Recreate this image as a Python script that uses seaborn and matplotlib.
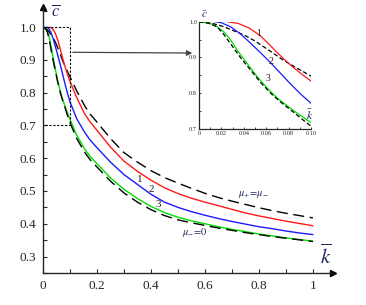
import matplotlib
matplotlib.use("Agg")
import matplotlib.pyplot as plt
from matplotlib.ticker import MultipleLocator
import seaborn as sns

# ─── Data ───────────────────────────────────────────────────────────────────
# mu+ = mu- (upper dashed)
k_eq = [0, 0.011, 0.022, 0.033, 0.042, 0.05, 0.0625, 0.075, 0.0875, 0.1, 0.125, 0.155,
        0.175, 0.2, 0.25, 0.3, 0.35, 0.4, 0.45, 0.5, 0.55, 0.6, 0.65, 0.7, 0.75, 0.8,
        0.85, 0.9, 0.95, 1.0]
c_eq = [1.0, 0.996, 0.986, 0.972, 0.96, 0.946, 0.92, 0.893, 0.87, 0.848, 0.805, 0.759,
        0.734, 0.71, 0.66, 0.617, 0.588, 0.562, 0.541, 0.524, 0.508, 0.493, 0.48, 0.469,
        0.459, 0.449, 0.44, 0.432, 0.425, 0.418]

# curve 1 (red)
k_1 = [0.025, 0.035, 0.045, 0.055, 0.0625, 0.07, 0.076, 0.082, 0.091, 0.1, 0.125, 0.155,
       0.175, 0.2, 0.25, 0.3, 0.35, 0.4, 0.45, 0.5, 0.55, 0.6, 0.65, 0.7, 0.75, 0.8, 0.85,
       0.9, 0.95, 1.0]
c_1 = [1.0, 0.995, 0.982, 0.96, 0.937, 0.913, 0.895, 0.878, 0.855, 0.834, 0.785, 0.734,
       0.71, 0.685, 0.634, 0.591, 0.56, 0.533, 0.51, 0.492, 0.478, 0.466, 0.455, 0.444,
       0.433, 0.424, 0.416, 0.408, 0.401, 0.394]

# curve 2 (blue)
k_2 = [0.014, 0.02, 0.028, 0.037, 0.046, 0.055, 0.064, 0.073, 0.082, 0.091, 0.1, 0.125,
       0.155, 0.175, 0.2, 0.25, 0.3, 0.35, 0.4, 0.45, 0.5, 0.55, 0.6, 0.65, 0.7, 0.75,
       0.8, 0.85, 0.9, 0.95, 1.0]
c_2 = [1.0, 0.997, 0.986, 0.966, 0.94, 0.913, 0.885, 0.855, 0.825, 0.797, 0.772, 0.72,
       0.678, 0.655, 0.632, 0.588, 0.55, 0.52, 0.49, 0.466, 0.45, 0.437, 0.426, 0.416,
       0.407, 0.399, 0.391, 0.385, 0.378, 0.372, 0.367]

# curve 3 (green)
k_3 = [0, 0.01, 0.016, 0.022, 0.028, 0.034, 0.043, 0.052, 0.061, 0.07, 0.085, 0.1, 0.125,
       0.155, 0.175, 0.2, 0.25, 0.3, 0.35, 0.4, 0.45, 0.5, 0.55, 0.6, 0.65, 0.7, 0.75,
       0.8, 0.85, 0.9, 0.95, 1.0]
c_3 = [1.0, 0.995, 0.986, 0.972, 0.95, 0.921, 0.883, 0.846, 0.814, 0.786, 0.75, 0.718,
       0.67, 0.627, 0.605, 0.583, 0.54, 0.505, 0.477, 0.453, 0.434, 0.42, 0.409, 0.40,
       0.391, 0.383, 0.376, 0.369, 0.363, 0.357, 0.352, 0.347]

# mu- = 0 (lower dashed)
k_zero = [0, 0.008, 0.016, 0.022, 0.028, 0.037, 0.046, 0.055, 0.064, 0.073, 0.082, 0.091,
          0.1, 0.125, 0.155, 0.175, 0.2, 0.25, 0.3, 0.35, 0.4, 0.45, 0.5, 0.55, 0.6, 0.65,
          0.7, 0.75, 0.8, 0.85, 0.9, 0.95, 1.0]
c_zero = [1.0, 0.996, 0.986, 0.965, 0.939, 0.90, 0.865, 0.83, 0.80, 0.775, 0.753, 0.73,
          0.708, 0.66, 0.617, 0.595, 0.573, 0.53, 0.494, 0.466, 0.443, 0.425, 0.412, 0.403,
          0.395, 0.387, 0.38, 0.373, 0.367, 0.361, 0.356, 0.351, 0.346]

main_xticks = [0, 0.2, 0.4, 0.6, 0.8, 1.0]
main_xlabels = ["0", "0.2", "0.4", "0.6", "0.8", "1"]
main_yticks = [0.3, 0.4, 0.5, 0.6, 0.7, 0.8, 0.9, 1.0]
inset_xticks = [0, 0.02, 0.04, 0.06, 0.08, 0.10]
inset_xlabels = ["0", "0.02", "0.04", "0.06", "0.08", "0.10"]
inset_yticks = [0.7, 0.8, 0.9, 1.0]

# ─── Style ──────────────────────────────────────────────────────────────────
sns.set_theme(style="ticks")
plt.rcParams["font.family"] = ["Liberation Serif", "DejaVu Serif"]
plt.rcParams["mathtext.fontset"] = "stix"

RED, BLUE, GREEN, BLACK = "#ff1a1a", "#1a1aff", "#00dd00", "black"
NAVY = "#1c2460"

series = [
    (k_eq, c_eq, BLACK, True),
    (k_1, c_1, RED, False),
    (k_2, c_2, BLUE, False),
    (k_3, c_3, GREEN, False),
    (k_zero, c_zero, BLACK, True),
]

fig = plt.figure(figsize=(3.66, 3.05), dpi=100)
ax = fig.add_axes([0.1175, 0.105, 0.792, 0.872])

for xs, ys, col, dashed in series:
    sns.lineplot(x=xs, y=ys, ax=ax, color=col, lw=1.0, sort=False, estimator=None)
    if dashed:
        ax.lines[-1].set_dashes([8, 4])

ax.set_xlim(0, 1.074)
ax.set_ylim(0.25, 1.061)
sns.despine(ax=ax)
ax.set_xticks(main_xticks)
ax.set_xticklabels(main_xlabels)
ax.set_yticks(main_yticks)
ax.xaxis.set_minor_locator(MultipleLocator(0.1))
ax.yaxis.set_minor_locator(MultipleLocator(0.05))
ax.tick_params(which="both", direction="in", length=3, width=0.8, labelsize=9.5, pad=5)
ax.set_xlabel("")
ax.set_ylabel("")
for s in ax.spines.values():
    s.set_linewidth(1.0)

# axis arrows
ax.plot(1, 0, marker=">", ms=5, color="black", transform=ax.transAxes, clip_on=False)
ax.plot(0, 1, marker="^", ms=5, color="black", transform=ax.transAxes, clip_on=False)

ax.text(0.03, 1.045, r"$\overline{c}$", color=NAVY, fontsize=12, ha="left", va="center")
ax.text(1.048, 0.3, r"$\overline{k}$", color=NAVY, fontsize=15, ha="center", va="center")

# zoom rectangle and connector
ax.plot([0, 0.1, 0.1, 0], [1.0, 1.0, 0.7, 0.7], ls=(0, (2, 1.5)), color="black", lw=0.8)
ax.annotate("", xy=(0.533, 0.826), xycoords="figure fraction",
            xytext=(0.1, 0.923), textcoords="data",
            arrowprops=dict(arrowstyle="-|>", color="#444444", lw=0.9, mutation_scale=8))

lab = dict(fontsize=8, color="#2a1a10", ha="center", va="center")
ax.text(0.359, 0.535, "1", **lab)
ax.text(0.40, 0.505, "2", **lab)
ax.text(0.426, 0.458, "3", **lab)
ax.text(0.778, 0.489, r"$\mu_{+}\!=\!\mu_{-}$", fontsize=7.5, color=NAVY, ha="center", va="center")
ax.text(0.563, 0.373, r"$\mu_{-}\!=\!0$", fontsize=7.5, color=NAVY, ha="center", va="center")

# ─── Inset ──────────────────────────────────────────────────────────────────
ins = fig.add_axes([0.5437, 0.577, 0.306, 0.352])
for xs, ys, col, dashed in series:
    sns.lineplot(x=xs, y=ys, ax=ins, color=col, lw=0.9, sort=False, estimator=None)
    if dashed:
        ins.lines[-1].set_dashes([3.5, 2])
ins.set_xlim(0, 0.1)
ins.set_ylim(0.7, 1.0)
sns.despine(ax=ins)
ins.set_xticks(inset_xticks)
ins.set_xticklabels(inset_xlabels)
ins.set_yticks(inset_yticks)
ins.xaxis.set_minor_locator(MultipleLocator(0.01))
ins.yaxis.set_minor_locator(MultipleLocator(0.05))
ins.tick_params(which="both", direction="in", length=1.5, width=0.6, labelsize=4.5, pad=1.5)
ins.set_xlabel("")
ins.set_ylabel("")
for s in ins.spines.values():
    s.set_linewidth(0.9)
ins.patch.set_alpha(0)

ins.text(0.002, 1.02, r"$\bar{c}$", fontsize=8, color=NAVY, ha="left", va="center")
ins.text(0.099, 0.738, r"$\bar{k}$", fontsize=8.5, color=NAVY, ha="center", va="center")
ilab = dict(fontsize=7, color="#2a1a10", ha="center", va="center")
ins.text(0.053, 0.968, "1", **ilab)
ins.text(0.064, 0.89, "2", **ilab)
ins.text(0.062, 0.84, "3", **ilab)

fig.savefig("out.png", dpi=100)
